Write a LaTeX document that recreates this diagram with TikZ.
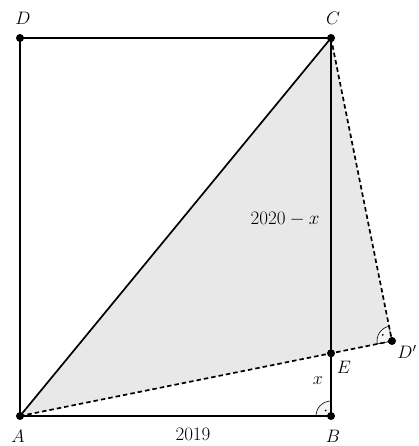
\RequirePackage{fix-cm}
\documentclass[tikz,border=0pt]{standalone}
\usetikzlibrary{calc}
\begin{document}
\begin{tikzpicture}[x=1pt,y=-1pt,
  edge/.style={line width=1.7pt},
  dashedge/.style={line width=1.7pt,dash pattern=on 4.5pt off 3pt},
  pt/.style={circle,fill=black,inner sep=0pt,minimum size=8pt},
  lab/.style={inner sep=0pt,font=\fontsize{18}{20}\selectfont},
  num/.style={inner sep=0pt,font=\fontsize{19}{22}\selectfont},
  ramark/.style={line width=0.6pt,fill=gray!8}]
\useasboundingbox (0,0) rectangle (419,446);
\coordinate (A) at (20,416);
\coordinate (B) at (331,416);
\coordinate (C) at (331,38);
\coordinate (D) at (20,38);
\coordinate (Dp) at (392,341);
\coordinate (E) at (331,353.3);
% shaded triangle
\fill[gray!18] (A) -- (C) -- (Dp) -- cycle;
% right angle marks
\draw[ramark] (B) -- ++(-15,0) arc[start angle=180,end angle=270,radius=15] -- cycle;
\fill (B) ++(-5.5,-5.5) circle (1pt);
\draw[ramark] (Dp) -- ($(Dp)!15pt!(A)$) arc[start angle=168.6,end angle=258.6,radius=15] -- cycle;
\fill ($(Dp)!7.8pt!(A)$) ++($(Dp)!7.8pt!(C)-(Dp)$) circle (1pt);
% edges
\draw[edge] (D) -- (C);
\draw[edge] (D) -- (A);
\draw[edge] (A) -- (B);
\draw[edge] (B) -- (C);
\draw[edge] (A) -- (C);
\draw[dashedge] (A) -- (Dp);
\draw[dashedge] (C) -- (Dp);
% points
\foreach \p in {A,B,C,D,Dp,E} \node[pt] at (\p) {};
% labels
\node[lab] (lA) at (18,436) {$A$};
\node[lab] (lB) at (333,436) {$B$};
\node[lab] (lC) at (333,18) {$C$};
\node[lab] (lD) at (23,18) {$D$};
\node[lab] (lE) at (344,367) {$E$};
\node[lab] (lDp) at (407,352) {$D'$};
\node[lab] (lx) at (318,381) {$x$};
\node[num] (l2019) at (193,434) {$2019$};
\node[num] (l2020) at (285,219) {$2020-x$};
\end{tikzpicture}
\end{document}
